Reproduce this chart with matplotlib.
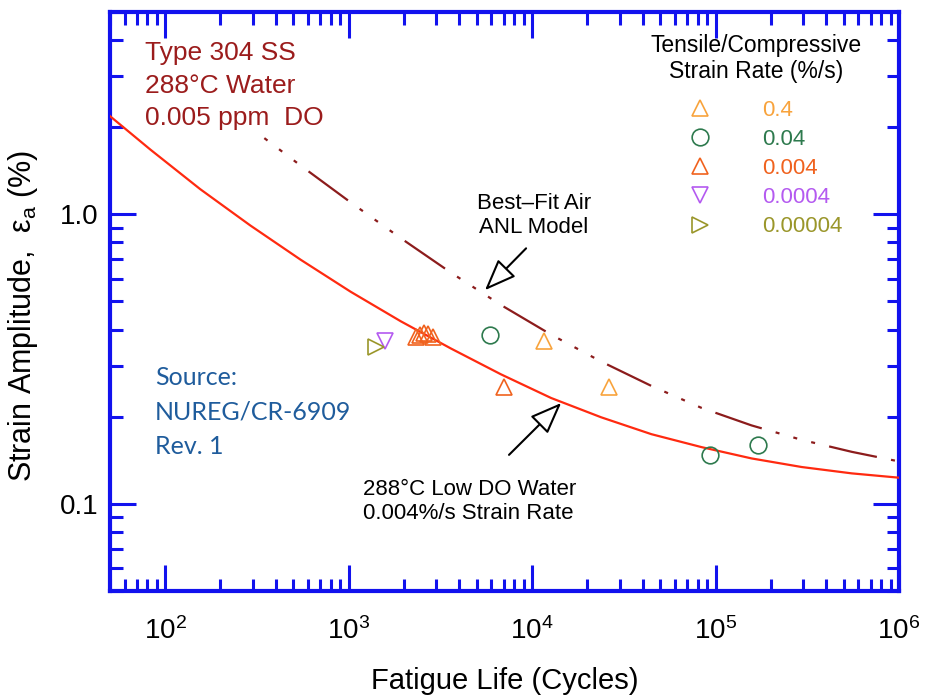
import matplotlib
matplotlib.use('Agg')
import matplotlib.pyplot as plt
from matplotlib.ticker import FixedLocator, FixedFormatter, LogLocator, NullFormatter

plt.rcParams['font.family'] = ['Liberation Sans', 'DejaVu Sans']
plt.rcParams['mathtext.fontset'] = 'custom'
plt.rcParams['mathtext.rm'] = 'Liberation Sans'
plt.rcParams['mathtext.it'] = 'Liberation Sans:italic'

# curves
water_cycles = [50, 83, 155, 291, 547, 1026, 1924, 3607, 6770, 12700, 23800,
                44700, 83800, 157000, 295000, 553000, 1.0e6]
water_strain = [2.183, 1.673, 1.222, 0.915, 0.697, 0.540, 0.427, 0.344, 0.280,
                0.232, 0.199, 0.174, 0.157, 0.1435, 0.134, 0.1274, 0.1231]

air_cycles = [343, 547, 1026, 1924, 3607, 6770, 12700, 23800, 44700, 83800,
              157000, 295000, 553000, 1.0e6]
air_strain = [1.843, 1.474, 1.099, 0.827, 0.629, 0.486, 0.384, 0.310, 0.2554,
              0.2145, 0.1866, 0.1663, 0.1512, 0.1401]

# test data by strain rate (%/s)
rate_labels = ['0.4', '0.04', '0.004', '0.0004', '0.00004']
rate_markers = ['^', 'o', '^', 'v', '>']
rate_colors = ['#f8a33c', '#2e7a4e', '#f0621e', '#b45af0', '#9a962a']
rate_cycles = [
    [11640, 26400],
    [5890, 92700, 170000],
    [2330, 2450, 2560, 2700, 2880, 7030],
    [1573],
    [1406],
]
rate_strain = [
    [0.365, 0.253],
    [0.383, 0.147, 0.160],
    [0.376, 0.383, 0.388, 0.385, 0.378, 0.253],
    [0.365],
    [0.348],
]

blue = '#1212ee'

fig = plt.figure(figsize=(9.27, 6.96), dpi=100)
ax = fig.add_axes([0.1187, 0.1509, 0.8511, 0.8319])
ax.set_xscale('log')
ax.set_yscale('log')
ax.set_xlim(50, 1e6)
ax.set_ylim(0.05, 5)

ax.plot(water_cycles, water_strain, color='#ff2a10', lw=1.6, zorder=3)
ax.plot(air_cycles, air_strain, color='#8c1c1c', lw=1.6,
        linestyle=(28, (22, 6.5, 1.8, 6.5, 1.8, 6.5, 1.8, 6.5)), zorder=3)

for lab, mk, col, xs, ys in zip(rate_labels, rate_markers, rate_colors,
                                 rate_cycles, rate_strain):
    ax.plot(xs, ys, linestyle='none', marker=mk, markersize=12,
            markerfacecolor='none', markeredgecolor=col, markeredgewidth=1.2,
            label=lab, zorder=4)

leg = ax.legend(loc='upper left', bbox_to_anchor=(0.7199, 0.8487), frameon=False,
                fontsize=16, handlelength=2.0, handletextpad=1.8,
                labelspacing=0.37, borderpad=0, borderaxespad=0)
for txt, col in zip(leg.get_texts(), rate_colors):
    txt.set_color(col)
ax.text(0.8188, 0.9197, 'Tensile/Compressive\nStrain Rate (%/s)', transform=ax.transAxes,
        ha='center', va='center', fontsize=16.5, linespacing=1.2)

# spines and ticks
for sp in ax.spines.values():
    sp.set_color(blue)
    sp.set_linewidth(3)
ax.xaxis.set_major_locator(LogLocator(base=10, numticks=10))
ax.xaxis.set_minor_locator(LogLocator(base=10, subs=range(2, 10), numticks=20))
ax.xaxis.set_minor_formatter(NullFormatter())
ax.yaxis.set_major_locator(FixedLocator([0.1, 1.0]))
ax.yaxis.set_major_formatter(FixedFormatter(['0.1', '1.0']))
ax.yaxis.set_minor_locator(LogLocator(base=10, subs=range(2, 10), numticks=20))
ax.yaxis.set_minor_formatter(NullFormatter())
ax.tick_params(which='both', direction='in', top=True, right=True,
               color=blue, width=2.2, labelsize=20)
ax.tick_params(which='major', length=19)
ax.tick_params(which='minor', length=9)
ax.tick_params(axis='x', which='major', pad=19)
ax.tick_params(axis='y', which='major', pad=8)

ax.set_xlabel('Fatigue Life (Cycles)', fontsize=21, labelpad=16)
ax.set_ylabel('Strain Amplitude,  ε$_{\\rm a}$ (%)', fontsize=22)
ax.yaxis.set_label_coords(-0.089, 0.475)

ax.text(0.044, 0.95, 'Type 304 SS\n288°C Water\n0.005 ppm  DO', transform=ax.transAxes,
        ha='left', va='top', fontsize=19, color='#9b1c1c', linespacing=1.46)
ax.text(0.057, 0.388, 'Source:\nNUREG/CR-6909\nRev. 1', transform=ax.transAxes,
        ha='left', va='top', fontsize=18, color='#1f5c9c', linespacing=1.59,
        family=['Lato', 'DejaVu Sans'])

ax.text(10250, 0.99, 'Best\u2013Fit Air\nANL Model', ha='center', va='center',
        fontsize=16, linespacing=1.15)
ax.text(1193, 0.102, '288°C Low DO Water\n0.004%/s Strain Rate', ha='left', va='center',
        fontsize=16, linespacing=1.15)

arrow_kw = dict(arrowstyle='-|>,head_length=1.4,head_width=0.55', fc='white',
                ec='black', lw=1.5, mutation_scale=14, shrinkA=0, shrinkB=0)
ax.annotate('', xy=(5533, 0.547), xytext=(9270, 0.763), arrowprops=arrow_kw)
ax.annotate('', xy=(14400, 0.223), xytext=(7480, 0.1476), arrowprops=arrow_kw)

fig.savefig('out.png', dpi=100)
